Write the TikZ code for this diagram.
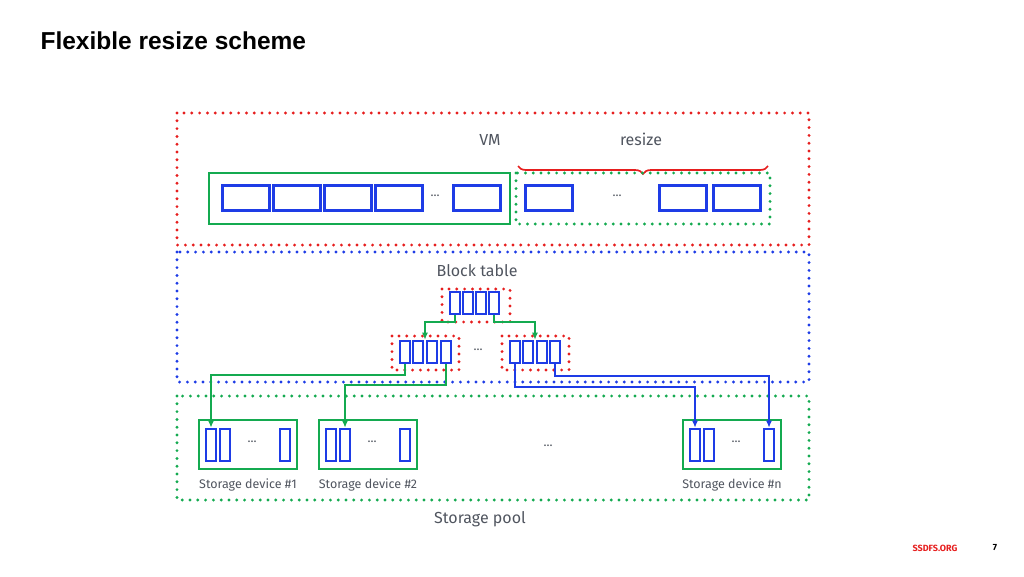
\documentclass[tikz,border=0pt]{standalone}
\usepackage{fontspec}
\setmainfont{Fira Sans}
\newfontfamily\titlefont{Liberation Sans}
\usetikzlibrary{decorations.pathreplacing,arrows.meta}
\definecolor{cblue}{RGB}{30,60,230}
\definecolor{cgreen}{RGB}{20,170,80}
\definecolor{cred}{RGB}{230,30,30}
\definecolor{ctext}{RGB}{80,85,95}
\begin{document}
\begin{tikzpicture}[x=1pt,y=-1pt,
    dots/.style={line width=3.2pt,line cap=round,dash pattern=on 0pt off 7.8pt},
    cell/.style={draw=cblue,line width=2.6pt,fill=white,inner sep=0pt,minimum width=#1},
    vcell/.style={cell=47pt,minimum height=25pt},
    tcell/.style={cell=10pt,minimum height=22pt},
    scell/.style={cell=10pt,minimum height=32pt},
    dev/.style={draw=cgreen,line width=2.6pt},
    link/.style={line width=2pt,-{Latex[length=7pt,width=6pt]}},
    lbl/.style={text=ctext,font=\fontsize{16}{18}\selectfont},
    small/.style={text=ctext,font=\fontsize{12.5}{14}\selectfont}]
  \useasboundingbox (0,0) rectangle (1024,576);
  \node[anchor=west,font=\titlefont\bfseries\fontsize{24.5}{26}\selectfont] (title) at (37,41) {Flexible resize scheme};

  % areas
  \draw[dots,cred] (177,113) rectangle (809,245);
  \draw[dots,cblue] (177,252) rectangle (809,382);
  \draw[dots,cgreen] (177,396) rectangle (809,500);

  % VM
  \node[lbl] (vm) at (490,140) {VM};
  \node[lbl] (resize) at (641,139) {resize};
  \draw[cred,line width=1.7pt,decorate,decoration={brace,amplitude=8pt,mirror}] (518,166) -- (768,166);
  \draw[dev] (209,173) rectangle (510,224);
  \draw[dots,cgreen] (516,173) rectangle (770,224);
  \foreach \x [count=\i] in {246,297,348,399,477} \node[vcell] (v\i) at (\x,198) {};
  \node[small] (vdots) at (435,196) {...};
  \foreach \x [count=\i] in {549,683,737} \node[vcell] (r\i) at (\x,198) {};
  \node[small] (rdots) at (617,196) {...};

  % block table
  \node[lbl] (bt) at (477,271) {Block table};
  \draw[dots,cred] (442,289) rectangle (510,322);
  \draw[dots,cred] (392,336) rectangle (459,370);
  \draw[dots,cred] (502,336) rectangle (569,370);
  \foreach \x [count=\i] in {455,468,481,494} \node[tcell] (t\i) at (\x,303) {};
  \foreach \x [count=\i] in {405,418,432,446} \node[tcell] (a\i) at (\x,352) {};
  \foreach \x [count=\i] in {515,528,542,555} \node[tcell] (b\i) at (\x,352) {};
  \node[small] (mdots) at (478,350) {...};

  % storage pool
  \foreach \n/\x/\t in {1/199/Storage device \#1,2/319/Storage device \#2,3/683/Storage device \#n} {
    \draw[dev] (\x,420) rectangle ++(98,49);
    \node[scell] (s\n a) at (\x+12,445) {};
    \node[scell] (s\n b) at (\x+26,445) {};
    \node[scell] (s\n c) at (\x+86,445) {};
    \node[small] (s\n d) at (\x+53,442) {...};
    \node[small] (s\n l) at (\x+49,485) {\t};
  }
  \node[small] (pdots) at (548,446) {...};
  \node[lbl] (pool) at (480,519) {Storage pool};

  % links
  \draw[link,cgreen] (t1.south) |- (425,322) -- (a2.north -| 425,0);
  \draw[link,cgreen] (t4.south) |- (535,322) -- (b2.north -| 535,0);
  \draw[link,cgreen] (a1.south) |- (s1a.north |- 0,375) -- (s1a.north);
  \draw[link,cgreen] (a4.south) |- (s2b.north |- 0,385) -- (s2b.north);
  \draw[link,cblue] (b1.south) |- (s3a.north |- 0,387) -- (s3a.north);
  \draw[link,cblue] (b4.south) |- (s3c.north |- 0,376) -- (s3c.north);

  \node[text=cred,font=\bfseries\fontsize{9}{10}\selectfont] (site) at (935,548) {SSDFS.ORG};
  \node[font=\bfseries\fontsize{9}{10}\selectfont] (page) at (995,548) {7};
\end{tikzpicture}
\end{document}
